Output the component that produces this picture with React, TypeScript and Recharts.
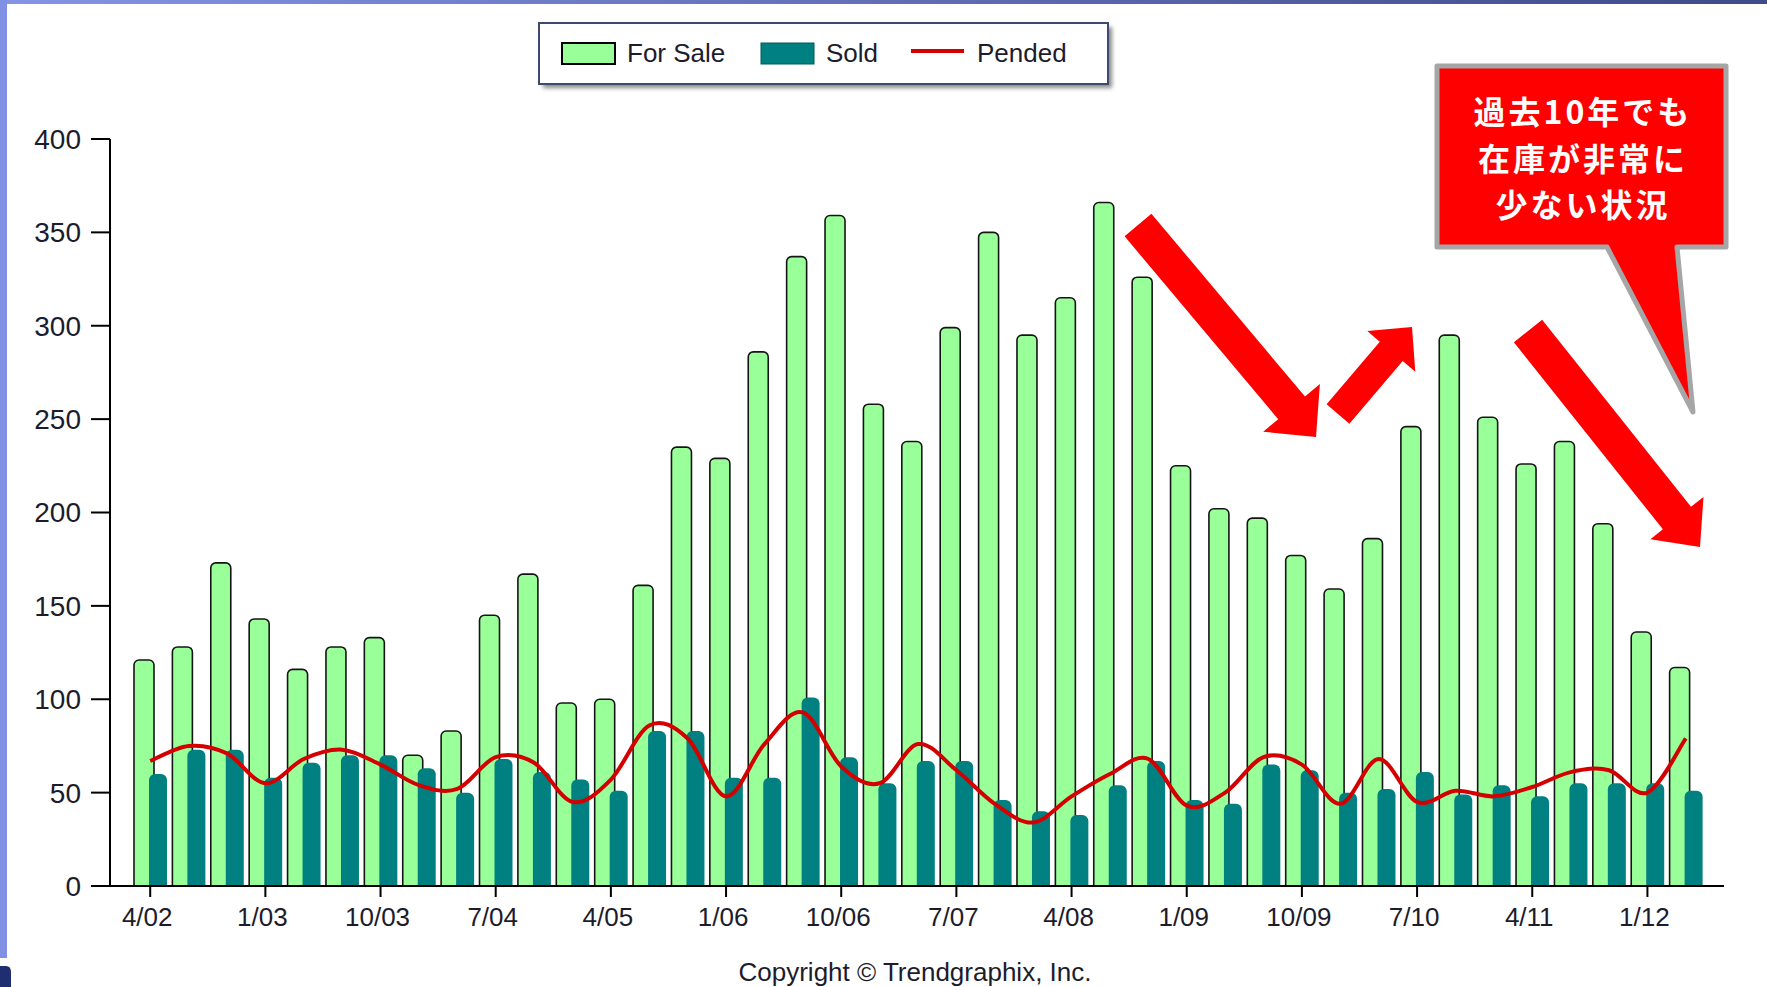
import React from "react";
import { ComposedChart, Bar, Line, XAxis, YAxis } from "recharts";

const quarters = [
  "4/02", "7/02", "10/02", "1/03", "4/03", "7/03", "10/03", "1/04", "4/04", "7/04",
  "10/04", "1/05", "4/05", "7/05", "10/05", "1/06", "4/06", "7/06", "10/06", "1/07",
  "4/07", "7/07", "10/07", "1/08", "4/08", "7/08", "10/08", "1/09", "4/09", "7/09",
  "10/09", "1/10", "4/10", "7/10", "10/10", "1/11", "4/11", "7/11", "10/11", "1/12",
  "4/12",
];

const forSale = [
  121, 128, 173, 143, 116, 128, 133, 70, 83, 145,
  167, 98, 100, 161, 235, 229, 286, 337, 359, 258,
  238, 299, 350, 295, 315, 366, 326, 225, 202, 197,
  177, 159, 186, 246, 295, 251, 226, 238, 194, 136,
  117,
];

const sold = [
  60, 73, 73, 58, 66, 70, 70, 63, 50, 68,
  61, 57, 51, 83, 83, 58, 58, 101, 69, 55,
  67, 67, 46, 40, 38, 54, 67, 46, 44, 65,
  62, 50, 52, 61, 49, 54, 48, 55, 55, 55,
  51,
];

const pended = [
  67, 75, 71, 55, 68, 73, 65, 54, 52, 69,
  66, 45, 57, 86, 79, 48, 76, 93, 64, 55,
  76, 62, 44, 34, 48, 60, 68, 43, 50, 69,
  65, 44, 68, 45, 51, 48, 53, 61, 62, 50,
  79,
];

const yTicks = [0, 50, 100, 150, 200, 250, 300, 350, 400];

const calloutLines = ["過去10年でも", "在庫が非常に", "少ない状況"];

const data = quarters.map((q, i) => ({
  q,
  forSale: forSale[i],
  sold: sold[i],
  pended: pended[i],
}));

// catmull-rom style spline, close to the old MS chart "spline" look
function splineCurve(context: any) {
  let pts: number[][] = [];
  return {
    areaStart() {},
    areaEnd() {},
    lineStart() {
      pts = [];
    },
    lineEnd() {
      if (!pts.length) return;
      context.moveTo(pts[0][0], pts[0][1]);
      const t = 1 / 6;
      for (let i = 0; i < pts.length - 1; i++) {
        const p0 = pts[i - 1] || pts[i];
        const p1 = pts[i];
        const p2 = pts[i + 1];
        const p3 = pts[i + 2] || p2;
        context.bezierCurveTo(
          p1[0] + (p2[0] - p0[0]) * t,
          p1[1] + (p2[1] - p0[1]) * t,
          p2[0] - (p3[0] - p1[0]) * t,
          p2[1] - (p3[1] - p1[1]) * t,
          p2[0],
          p2[1]
        );
      }
    },
    point(x: number, y: number) {
      pts.push([+x, +y]);
    },
  };
}

function arrowPoints(tail: number[], tip: number[], shaftW: number, headW: number, headL: number) {
  const dx = tip[0] - tail[0];
  const dy = tip[1] - tail[1];
  const len = Math.hypot(dx, dy);
  const ux = dx / len;
  const uy = dy / len;
  const px = -uy;
  const py = ux;
  const bx = tip[0] - ux * headL;
  const by = tip[1] - uy * headL;
  const s = shaftW / 2;
  const h = headW / 2;
  const p = [
    [tail[0] + px * s, tail[1] + py * s],
    [bx + px * s, by + py * s],
    [bx + px * h, by + py * h],
    tip,
    [bx - px * h, by - py * h],
    [bx - px * s, by - py * s],
    [tail[0] - px * s, tail[1] - py * s],
  ];
  return p.map((q) => q[0].toFixed(1) + "," + q[1].toFixed(1)).join(" ");
}

const font = "'Liberation Sans', Arial, sans-serif";
const textColor = "#1c1c2c";

export default function App() {
  return (
    <div
      style={{
        position: "absolute",
        left: 0,
        top: 0,
        width: 1767,
        height: 987,
        background: "#fff",
        overflow: "hidden",
        fontFamily: font,
      }}
    >
      <ComposedChart
        width={1767}
        height={987}
        data={data}
        margin={{ top: 139, right: 43, bottom: 41, left: 0 }}
        barGap={-5}
      >
        <XAxis
          dataKey="q"
          interval={2}
          height={60}
          padding={{ left: 21, right: 19 }}
          tickSize={11}
          tickMargin={11}
          axisLine={{ stroke: "#000", strokeWidth: 2 }}
          tickLine={{ stroke: "#000", strokeWidth: 2 }}
          tick={{ fill: textColor, fontSize: 26, fontFamily: font, dx: -3 }}
        />
        <YAxis
          domain={[0, 400]}
          ticks={yTicks}
          width={110}
          tickSize={19}
          tickMargin={10}
          axisLine={{ stroke: "#000", strokeWidth: 2 }}
          tickLine={{ stroke: "#000", strokeWidth: 2 }}
          tick={{ fill: textColor, fontSize: 28, fontFamily: font }}
        />
        <Bar
          dataKey="forSale"
          fill="#99ff99"
          stroke="#151515"
          strokeWidth={1.6}
          barSize={20}
          radius={[5, 5, 0, 0]}
          isAnimationActive={false}
        />
        <Bar
          dataKey="sold"
          fill="#008080"
          barSize={18}
          radius={[6, 6, 0, 0]}
          isAnimationActive={false}
        />
        <Line
          dataKey="pended"
          type={splineCurve as any}
          stroke="#d40000"
          strokeWidth={4}
          dot={false}
          activeDot={false}
          isAnimationActive={false}
        />
      </ComposedChart>

      <svg
        width={1767}
        height={987}
        style={{ position: "absolute", left: 0, top: 0, pointerEvents: "none" }}
      >
        <defs>
          <linearGradient id="topBar" x1="0" x2="1" y1="0" y2="0">
            <stop offset="0" stopColor="#8494e6" />
            <stop offset="1" stopColor="#3f4a88" />
          </linearGradient>
          <filter id="shadow" x="-5%" y="-20%" width="115%" height="150%">
            <feGaussianBlur stdDeviation="2" />
          </filter>
        </defs>

        {/* slide frame bits */}
        <rect x={0} y={0} width={1767} height={4} fill="url(#topBar)" />
        <rect x={0} y={0} width={7} height={958} fill="#8091e3" />
        <path d="M0,966 L6,966 Q11,966 11,972 L11,987 L0,987 Z" fill="#1f2e70" />

        {/* legend */}
        <rect x={543} y={27} width={569} height={61} fill="#8a8a8a" filter="url(#shadow)" />
        <rect x={539} y={23} width={569} height={61} fill="#fff" stroke="#3d4a6b" strokeWidth={2} />
        <rect x={562} y={43} width={53} height={21} fill="#99ff99" stroke="#000" strokeWidth={2} />
        <text x={627} y={62} fontSize={26} fill={textColor} fontFamily={font}>For Sale</text>
        <rect x={761} y={43} width={53} height={21} fill="#008080" stroke="#005c5c" strokeWidth={1} />
        <text x={826} y={62} fontSize={26} fill={textColor} fontFamily={font}>Sold</text>
        <line x1={911} x2={964} y1={51} y2={51} stroke="#d40000" strokeWidth={4} />
        <text x={977} y={62} fontSize={26} fill={textColor} fontFamily={font}>Pended</text>

        {/* arrows */}
        <polygon points={arrowPoints([1138, 225], [1316, 437], 35, 74, 38)} fill="#ff0000" />
        <polygon points={arrowPoints([1338, 414], [1412, 327], 30, 63, 32)} fill="#ff0000" />
        <polygon points={arrowPoints([1528, 331], [1700, 547], 36, 68, 37)} fill="#ff0000" />

        {/* callout */}
        <path
          d="M1437,66 L1726,66 L1726,247 L1677,247 L1693,412 L1607,247 L1437,247 Z"
          fill="#ff0000"
          stroke="#a6a6a6"
          strokeWidth={5}
          strokeLinejoin="round"
        />
        {calloutLines.map((t, i) => (
          <text
            key={t}
            x={1583}
            y={124 + i * 46.5}
            textAnchor="middle"
            fontSize={32}
            letterSpacing={3}
            fontWeight="bold"
            fill="#fff"
            fontFamily="'Noto Sans CJK JP', sans-serif"
          >
            {t}
          </text>
        ))}

        <text x={915} y={981} textAnchor="middle" fontSize={26} fill={textColor} fontFamily={font}>
          Copyright © Trendgraphix, Inc.
        </text>
      </svg>
    </div>
  );
}
